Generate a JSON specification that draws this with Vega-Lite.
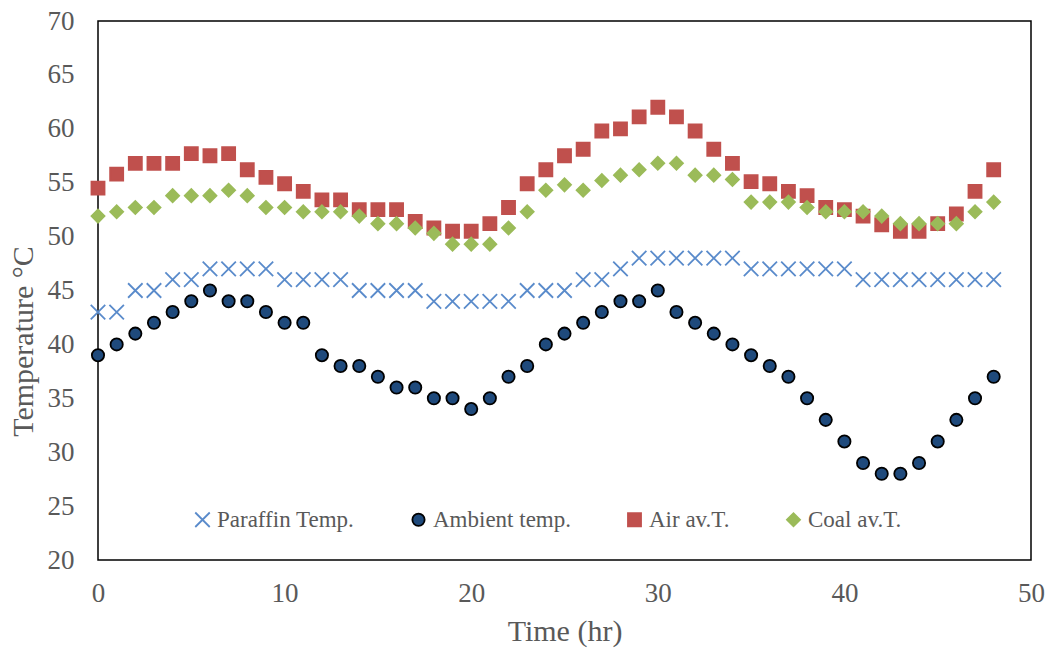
{
  "$schema": "https://vega.github.io/schema/vega-lite/v6.json",
  "width": 933,
  "height": 539,
  "autosize": "none",
  "padding": {"left": 98, "top": 21, "right": 18, "bottom": 88},
  "background": "white",
  "config": {
    "view": {"stroke": "#000000", "strokeWidth": 1.5},
    "font": "Liberation Serif",
    "axis": {
      "labelFont": "Liberation Serif",
      "labelFontSize": 27,
      "labelColor": "#595959",
      "titleFont": "Liberation Serif",
      "titleFontSize": 30,
      "titleFontWeight": "normal",
      "titleColor": "#595959",
      "ticks": false,
      "tickSize": 0,
      "domain": false,
      "grid": false,
      "labelFlush": false
    },
    "legend": {
      "labelFont": "Liberation Serif",
      "labelFontSize": 23,
      "labelColor": "#595959",
      "orient": "none",
      "legendX": 93,
      "legendY": 487,
      "direction": "horizontal",
      "columnPadding": 52,
      "labelOffset": 3,
      "symbolStrokeWidth": 1.8,
      "title": null,
      "padding": 0
    }
  },
  "datasets": {
    "temps": [
      {"t":0,"s":"Paraffin Temp.","v":43},{"t":1,"s":"Paraffin Temp.","v":43},{"t":2,"s":"Paraffin Temp.","v":45},{"t":3,"s":"Paraffin Temp.","v":45},{"t":4,"s":"Paraffin Temp.","v":46},{"t":5,"s":"Paraffin Temp.","v":46},{"t":6,"s":"Paraffin Temp.","v":47},{"t":7,"s":"Paraffin Temp.","v":47},{"t":8,"s":"Paraffin Temp.","v":47},{"t":9,"s":"Paraffin Temp.","v":47},
      {"t":10,"s":"Paraffin Temp.","v":46},{"t":11,"s":"Paraffin Temp.","v":46},{"t":12,"s":"Paraffin Temp.","v":46},{"t":13,"s":"Paraffin Temp.","v":46},{"t":14,"s":"Paraffin Temp.","v":45},{"t":15,"s":"Paraffin Temp.","v":45},{"t":16,"s":"Paraffin Temp.","v":45},{"t":17,"s":"Paraffin Temp.","v":45},{"t":18,"s":"Paraffin Temp.","v":44},{"t":19,"s":"Paraffin Temp.","v":44},
      {"t":20,"s":"Paraffin Temp.","v":44},{"t":21,"s":"Paraffin Temp.","v":44},{"t":22,"s":"Paraffin Temp.","v":44},{"t":23,"s":"Paraffin Temp.","v":45},{"t":24,"s":"Paraffin Temp.","v":45},{"t":25,"s":"Paraffin Temp.","v":45},{"t":26,"s":"Paraffin Temp.","v":46},{"t":27,"s":"Paraffin Temp.","v":46},{"t":28,"s":"Paraffin Temp.","v":47},{"t":29,"s":"Paraffin Temp.","v":48},
      {"t":30,"s":"Paraffin Temp.","v":48},{"t":31,"s":"Paraffin Temp.","v":48},{"t":32,"s":"Paraffin Temp.","v":48},{"t":33,"s":"Paraffin Temp.","v":48},{"t":34,"s":"Paraffin Temp.","v":48},{"t":35,"s":"Paraffin Temp.","v":47},{"t":36,"s":"Paraffin Temp.","v":47},{"t":37,"s":"Paraffin Temp.","v":47},{"t":38,"s":"Paraffin Temp.","v":47},{"t":39,"s":"Paraffin Temp.","v":47},
      {"t":40,"s":"Paraffin Temp.","v":47},{"t":41,"s":"Paraffin Temp.","v":46},{"t":42,"s":"Paraffin Temp.","v":46},{"t":43,"s":"Paraffin Temp.","v":46},{"t":44,"s":"Paraffin Temp.","v":46},{"t":45,"s":"Paraffin Temp.","v":46},{"t":46,"s":"Paraffin Temp.","v":46},{"t":47,"s":"Paraffin Temp.","v":46},{"t":48,"s":"Paraffin Temp.","v":46},
      {"t":0,"s":"Ambient temp.","v":39},{"t":1,"s":"Ambient temp.","v":40},{"t":2,"s":"Ambient temp.","v":41},{"t":3,"s":"Ambient temp.","v":42},{"t":4,"s":"Ambient temp.","v":43},{"t":5,"s":"Ambient temp.","v":44},{"t":6,"s":"Ambient temp.","v":45},{"t":7,"s":"Ambient temp.","v":44},{"t":8,"s":"Ambient temp.","v":44},{"t":9,"s":"Ambient temp.","v":43},
      {"t":10,"s":"Ambient temp.","v":42},{"t":11,"s":"Ambient temp.","v":42},{"t":12,"s":"Ambient temp.","v":39},{"t":13,"s":"Ambient temp.","v":38},{"t":14,"s":"Ambient temp.","v":38},{"t":15,"s":"Ambient temp.","v":37},{"t":16,"s":"Ambient temp.","v":36},{"t":17,"s":"Ambient temp.","v":36},{"t":18,"s":"Ambient temp.","v":35},{"t":19,"s":"Ambient temp.","v":35},
      {"t":20,"s":"Ambient temp.","v":34},{"t":21,"s":"Ambient temp.","v":35},{"t":22,"s":"Ambient temp.","v":37},{"t":23,"s":"Ambient temp.","v":38},{"t":24,"s":"Ambient temp.","v":40},{"t":25,"s":"Ambient temp.","v":41},{"t":26,"s":"Ambient temp.","v":42},{"t":27,"s":"Ambient temp.","v":43},{"t":28,"s":"Ambient temp.","v":44},{"t":29,"s":"Ambient temp.","v":44},
      {"t":30,"s":"Ambient temp.","v":45},{"t":31,"s":"Ambient temp.","v":43},{"t":32,"s":"Ambient temp.","v":42},{"t":33,"s":"Ambient temp.","v":41},{"t":34,"s":"Ambient temp.","v":40},{"t":35,"s":"Ambient temp.","v":39},{"t":36,"s":"Ambient temp.","v":38},{"t":37,"s":"Ambient temp.","v":37},{"t":38,"s":"Ambient temp.","v":35},{"t":39,"s":"Ambient temp.","v":33},
      {"t":40,"s":"Ambient temp.","v":31},{"t":41,"s":"Ambient temp.","v":29},{"t":42,"s":"Ambient temp.","v":28},{"t":43,"s":"Ambient temp.","v":28},{"t":44,"s":"Ambient temp.","v":29},{"t":45,"s":"Ambient temp.","v":31},{"t":46,"s":"Ambient temp.","v":33},{"t":47,"s":"Ambient temp.","v":35},{"t":48,"s":"Ambient temp.","v":37},
      {"t":0,"s":"Air av.T.","v":54.5},{"t":1,"s":"Air av.T.","v":55.8},{"t":2,"s":"Air av.T.","v":56.8},{"t":3,"s":"Air av.T.","v":56.8},{"t":4,"s":"Air av.T.","v":56.8},{"t":5,"s":"Air av.T.","v":57.7},{"t":6,"s":"Air av.T.","v":57.5},{"t":7,"s":"Air av.T.","v":57.7},{"t":8,"s":"Air av.T.","v":56.2},{"t":9,"s":"Air av.T.","v":55.5},
      {"t":10,"s":"Air av.T.","v":54.9},{"t":11,"s":"Air av.T.","v":54.2},{"t":12,"s":"Air av.T.","v":53.4},{"t":13,"s":"Air av.T.","v":53.4},{"t":14,"s":"Air av.T.","v":52.5},{"t":15,"s":"Air av.T.","v":52.5},{"t":16,"s":"Air av.T.","v":52.5},{"t":17,"s":"Air av.T.","v":51.4},{"t":18,"s":"Air av.T.","v":50.8},{"t":19,"s":"Air av.T.","v":50.5},
      {"t":20,"s":"Air av.T.","v":50.5},{"t":21,"s":"Air av.T.","v":51.2},{"t":22,"s":"Air av.T.","v":52.7},{"t":23,"s":"Air av.T.","v":54.9},{"t":24,"s":"Air av.T.","v":56.2},{"t":25,"s":"Air av.T.","v":57.5},{"t":26,"s":"Air av.T.","v":58.1},{"t":27,"s":"Air av.T.","v":59.8},{"t":28,"s":"Air av.T.","v":60.0},{"t":29,"s":"Air av.T.","v":61.1},
      {"t":30,"s":"Air av.T.","v":62.0},{"t":31,"s":"Air av.T.","v":61.1},{"t":32,"s":"Air av.T.","v":59.8},{"t":33,"s":"Air av.T.","v":58.1},{"t":34,"s":"Air av.T.","v":56.8},{"t":35,"s":"Air av.T.","v":55.1},{"t":36,"s":"Air av.T.","v":54.9},{"t":37,"s":"Air av.T.","v":54.2},{"t":38,"s":"Air av.T.","v":53.8},{"t":39,"s":"Air av.T.","v":52.7},
      {"t":40,"s":"Air av.T.","v":52.5},{"t":41,"s":"Air av.T.","v":51.9},{"t":42,"s":"Air av.T.","v":51.1},{"t":43,"s":"Air av.T.","v":50.5},{"t":44,"s":"Air av.T.","v":50.5},{"t":45,"s":"Air av.T.","v":51.2},{"t":46,"s":"Air av.T.","v":52.1},{"t":47,"s":"Air av.T.","v":54.2},{"t":48,"s":"Air av.T.","v":56.2},
      {"t":0,"s":"Coal av.T.","v":51.9},{"t":1,"s":"Coal av.T.","v":52.3},{"t":2,"s":"Coal av.T.","v":52.7},{"t":3,"s":"Coal av.T.","v":52.7},{"t":4,"s":"Coal av.T.","v":53.8},{"t":5,"s":"Coal av.T.","v":53.8},{"t":6,"s":"Coal av.T.","v":53.8},{"t":7,"s":"Coal av.T.","v":54.3},{"t":8,"s":"Coal av.T.","v":53.8},{"t":9,"s":"Coal av.T.","v":52.7},
      {"t":10,"s":"Coal av.T.","v":52.7},{"t":11,"s":"Coal av.T.","v":52.3},{"t":12,"s":"Coal av.T.","v":52.3},{"t":13,"s":"Coal av.T.","v":52.3},{"t":14,"s":"Coal av.T.","v":51.9},{"t":15,"s":"Coal av.T.","v":51.2},{"t":16,"s":"Coal av.T.","v":51.2},{"t":17,"s":"Coal av.T.","v":50.8},{"t":18,"s":"Coal av.T.","v":50.3},{"t":19,"s":"Coal av.T.","v":49.3},
      {"t":20,"s":"Coal av.T.","v":49.3},{"t":21,"s":"Coal av.T.","v":49.3},{"t":22,"s":"Coal av.T.","v":50.8},{"t":23,"s":"Coal av.T.","v":52.3},{"t":24,"s":"Coal av.T.","v":54.3},{"t":25,"s":"Coal av.T.","v":54.8},{"t":26,"s":"Coal av.T.","v":54.3},{"t":27,"s":"Coal av.T.","v":55.2},{"t":28,"s":"Coal av.T.","v":55.7},{"t":29,"s":"Coal av.T.","v":56.2},
      {"t":30,"s":"Coal av.T.","v":56.8},{"t":31,"s":"Coal av.T.","v":56.8},{"t":32,"s":"Coal av.T.","v":55.7},{"t":33,"s":"Coal av.T.","v":55.7},{"t":34,"s":"Coal av.T.","v":55.3},{"t":35,"s":"Coal av.T.","v":53.2},{"t":36,"s":"Coal av.T.","v":53.2},{"t":37,"s":"Coal av.T.","v":53.2},{"t":38,"s":"Coal av.T.","v":52.7},{"t":39,"s":"Coal av.T.","v":52.3},
      {"t":40,"s":"Coal av.T.","v":52.3},{"t":41,"s":"Coal av.T.","v":52.3},{"t":42,"s":"Coal av.T.","v":51.9},{"t":43,"s":"Coal av.T.","v":51.2},{"t":44,"s":"Coal av.T.","v":51.2},{"t":45,"s":"Coal av.T.","v":51.2},{"t":46,"s":"Coal av.T.","v":51.2},{"t":47,"s":"Coal av.T.","v":52.3},{"t":48,"s":"Coal av.T.","v":53.2}
    ]
  },
  "data": {"name": "temps"},
  "mark": {"type": "point", "filled": false, "opacity": 1, "strokeWidth": 1.8},
  "encoding": {
    "x": {
      "field": "t",
      "type": "quantitative",
      "title": "Time (hr)",
      "scale": {"domain": [0, 50], "nice": false},
      "axis": {"values": [0, 10, 20, 30, 40, 50], "labelPadding": 20, "titlePadding": 10}
    },
    "y": {
      "field": "v",
      "type": "quantitative",
      "title": "Temperature °C",
      "scale": {"domain": [20, 70], "nice": false, "zero": false},
      "axis": {"values": [20, 25, 30, 35, 40, 45, 50, 55, 60, 65, 70], "labelPadding": 24, "titlePadding": 9, "titleY": 320}
    },
    "fill": {
      "field": "s",
      "type": "nominal",
      "scale": {
        "domain": ["Paraffin Temp.", "Ambient temp.", "Air av.T.", "Coal av.T."],
        "range": ["transparent", "#1F4A7C", "#C0504D", "#9BBB59"]
      }
    },
    "shape": {
      "field": "s",
      "type": "nominal",
      "scale": {
        "domain": ["Paraffin Temp.", "Ambient temp.", "Air av.T.", "Coal av.T."],
        "range": ["M-1,-1L1,1M-1,1L1,-1", "circle", "square", "diamond"]
      }
    },
    "stroke": {
      "field": "s",
      "type": "nominal",
      "scale": {
        "domain": ["Paraffin Temp.", "Ambient temp.", "Air av.T.", "Coal av.T."],
        "range": ["#5A8BCB", "#000000", "#C0504D", "#9BBB59"]
      }
    },
    "size": {
      "field": "s",
      "type": "nominal",
      "scale": {
        "type": "ordinal",
        "domain": ["Paraffin Temp.", "Ambient temp.", "Air av.T.", "Coal av.T."],
        "range": [210, 150, 170, 170]
      }
    }
  }
}
